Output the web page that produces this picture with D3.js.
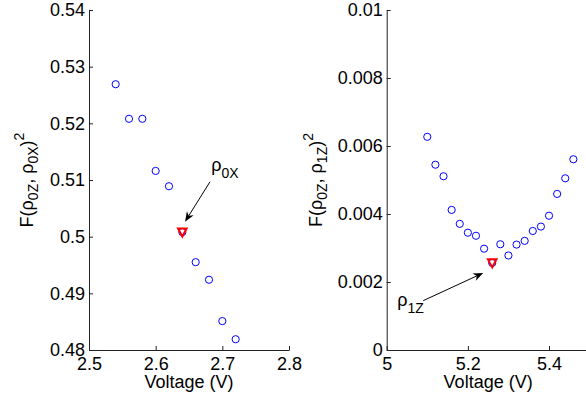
<!DOCTYPE html>
<html><head><meta charset="utf-8">
<script src="https://cdn.jsdelivr.net/npm/d3@7"></script>
<style>
html,body{margin:0;padding:0;background:#fff;}
svg text{font-family:"Liberation Sans",Arial,Helvetica,sans-serif;fill:#000;}
</style></head>
<body><svg id="c" width="586" height="403"></svg>
<script>
// ---- data ----
const leftVoltage = [2.54,2.56,2.58,2.60,2.62,2.64,2.66,2.68,2.70,2.72];
const leftF = [0.5269,0.5208,0.5208,0.5116,0.5089,0.5008,0.4955,0.4924,0.4851,0.4819];
const leftMinV = [2.64];
const leftMinF = [0.5008];
const leftXTicks = [2.5,2.6,2.7,2.8];
const leftYTicks = [0.48,0.49,0.50,0.51,0.52,0.53,0.54];

const rightVoltage = [5.10,5.12,5.14,5.16,5.18,5.20,5.22,5.24,5.26,5.28,5.30,5.32,5.34,5.36,5.38,5.40,5.42,5.44,5.46];
const rightF = [0.00627,0.00545,0.00511,0.00412,0.00371,0.00345,0.00336,0.00298,0.00256,0.00311,0.00278,0.00310,0.00321,0.00350,0.00363,0.00395,0.00459,0.00505,0.00561];
const rightMinV = [5.26];
const rightMinF = [0.00256];
const rightXTicks = [5,5.2,5.4];
const rightYTicks = [0,0.002,0.004,0.006,0.008,0.01];

const svg = d3.select("#c");
const fmt = d => String(+d.toFixed(4));

function panel(opt){
  const g = svg.append("g");
  const x = d3.scaleLinear().domain(opt.xdom).range(opt.xr);
  const y = d3.scaleLinear().domain(opt.ydom).range([350,10]);
  const ax = g.append("g").attr("transform","translate(0,350)")
    .call(d3.axisBottom(x).tickValues(opt.xt).tickFormat(fmt).tickSizeInner(-4).tickSizeOuter(0).tickPadding(7));
  const ay = g.append("g").attr("transform",`translate(${opt.xr[0]},0)`)
    .call(d3.axisLeft(y).tickValues(opt.yt).tickFormat(fmt).tickSizeInner(-4).tickSizeOuter(0).tickPadding(4));
  [ax,ay].forEach(a=>{
    a.selectAll("text").style("font-size","18px").attr("fill","#000");
    a.selectAll("path,line").attr("stroke","#222");
  });
  // circles
  g.selectAll("circle.p").data(opt.v.map((v,i)=>[v,opt.f[i]])).enter().append("circle")
    .attr("class","p").attr("cx",d=>x(d[0])).attr("cy",d=>y(d[1])).attr("r",3.6)
    .attr("fill","none").attr("stroke","#0000ff").attr("stroke-width",1);
  // min triangle
  const mx = x(opt.mv[0]), my = y(opt.mf[0]);
  g.append("path").attr("d",`M${mx-4.3},${my-3.6}L${mx+4.3},${my-3.6}L${mx},${my+4.4}Z`)
    .attr("fill","none").attr("stroke","#ff0000").attr("stroke-width",2);
  // arrow
  const tx = mx+opt.tip[0], ty = my+opt.tip[1];
  const sx = mx+opt.tail[0], sy = my+opt.tail[1];
  const ang = Math.atan2(ty-sy, tx-sx);
  const L=10, W=4, back=7;
  const ux=Math.cos(ang), uy=Math.sin(ang);
  const bx=tx-ux*L, by=ty-uy*L;
  const ix=tx-ux*back, iy=ty-uy*back;
  g.append("line").attr("x1",sx).attr("y1",sy).attr("x2",ix).attr("y2",iy)
    .attr("stroke","#000").attr("stroke-width",1);
  g.append("path").attr("d",`M${tx},${ty}L${bx-uy*W},${by+ux*W}L${ix},${iy}L${bx+uy*W},${by-ux*W}Z`)
    .attr("fill","#000");
  // annotation text
  const t = g.append("text").attr("x",mx+opt.lab[0]).attr("y",my+opt.lab[1]).style("font-size","18px");
  t.append("tspan").text("ρ");
  t.append("tspan").attr("dy",7).style("font-size","14px").text(opt.labSub);
  // x label
  g.append("text").attr("x",(opt.xr[0]+opt.xr[1])/2).attr("y",388).attr("text-anchor","middle")
    .style("font-size","18px").text("Voltage (V)");
  // y label
  const yl = g.append("text").attr("transform",`translate(${opt.ylx},180) rotate(-90)`)
    .attr("text-anchor","middle").style("font-size","18px");
  yl.append("tspan").text("F(ρ");
  yl.append("tspan").attr("dy",5).style("font-size","14px").text("0Z");
  yl.append("tspan").attr("dy",-5).text(", ρ");
  yl.append("tspan").attr("dy",5).style("font-size","14px").text(opt.ySub);
  yl.append("tspan").attr("dy",-5).text(")");
  yl.append("tspan").attr("dy",-9).style("font-size","14px").text("2");
}

panel({xdom:[2.5,2.8], xr:[89,289], ydom:[0.48,0.54], xt:leftXTicks, yt:leftYTicks,
  v:leftVoltage, f:leftF, mv:leftMinV, mf:leftMinF,
  tip:[2.7,-10.4], tail:[27.7,-50.4], lab:[29,-61], labSub:"0X", ylx:32.5, ySub:"0X"});
panel({xdom:[5,5.5], xr:[386.7,589.6], ydom:[0,0.01], xt:rightXTicks, yt:rightYTicks,
  v:rightVoltage, f:rightF, mv:rightMinV, mf:rightMinF,
  tip:[-9,10], tail:[-69,37.7], lab:[-95,43], labSub:"1Z", ylx:322, ySub:"1Z"});
</script></body></html>
